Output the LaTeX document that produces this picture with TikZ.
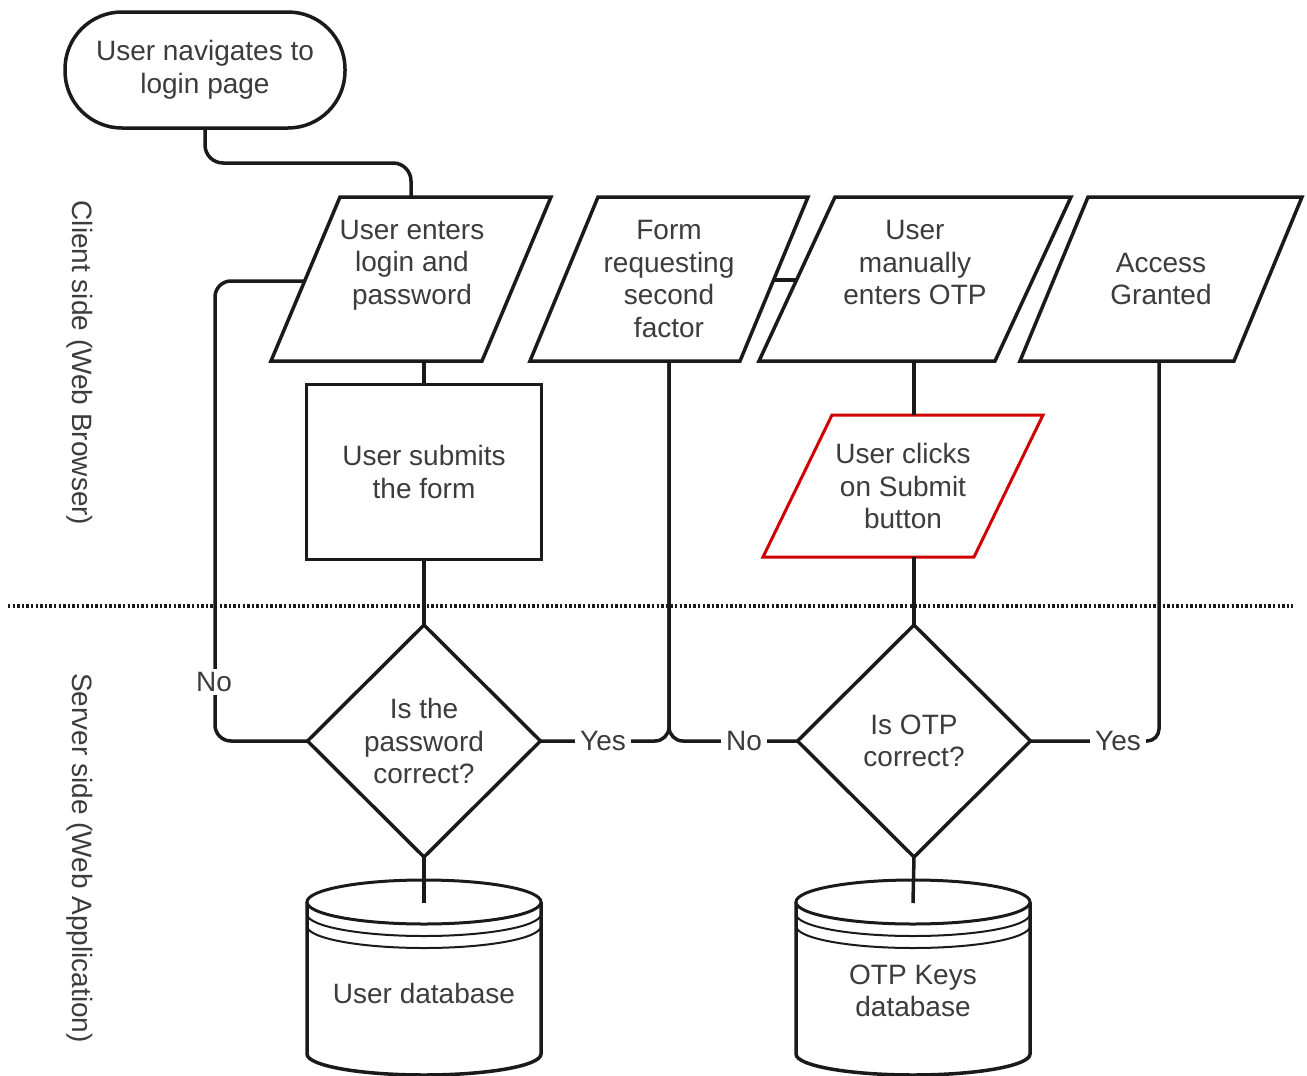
\documentclass[tikz,border=0pt]{standalone}
\usepackage{fontspec}
\setmainfont{Liberation Sans}
\usetikzlibrary{shapes.geometric,calc}
\definecolor{txt}{HTML}{3C3C3C}
\definecolor{ln}{HTML}{1A1A1A}
\definecolor{redb}{HTML}{D10000}
% #1 name, #2 cx, #3 cy, #4 half width (at mid height), #5 half height, #6 half slant, #7 style
\newcommand\paradraw[7]{%
  \draw[#7] (#2-#4+#6,#3-#5) -- (#2+#4+#6,#3-#5) -- (#2+#4-#6,#3+#5) -- (#2-#4-#6,#3+#5) -- cycle;
  \coordinate (#1-ls) at (#2-#4,#3);
  \coordinate (#1-rs) at (#2+#4,#3);
  \coordinate (#1-t) at (#2,#3-#5);
  \coordinate (#1-b) at (#2,#3+#5);
}
\newcommand\dbdraw[1]{%
  \draw[draw=ln, line width=3.5pt, fill=white] (#1-117,902) -- (#1-117,1054) arc[start angle=180,end angle=360,x radius=117pt,y radius=21pt] -- (#1+117,902);
  \draw[draw=ln, line width=3pt, fill=white] (#1,902) ellipse[x radius=117pt, y radius=22pt];
  \draw[draw=ln, line width=2pt] (#1-117,914) arc[start angle=180,end angle=360,x radius=117pt,y radius=22pt];
  \draw[draw=ln, line width=2pt] (#1-117,926) arc[start angle=180,end angle=360,x radius=117pt,y radius=22pt];
}
\begin{document}
\begin{tikzpicture}[x=1pt,y=-1pt,
  every node/.style={font=\fontsize{28}{32.5}\selectfont, text=txt},
  shp/.style={draw=ln, line width=3.5pt, fill=white, align=center, inner sep=2pt, outer sep=0pt},
  pshape/.style={draw=ln, line width=3.5pt, fill=white, line join=miter},
  rshape/.style={draw=redb, line width=3pt, fill=white, line join=miter},
  ptext/.style={align=center, inner sep=0pt},
  term/.style={shp, rectangle, rounded corners=57, minimum width=280, minimum height=116},
  proc/.style={shp, rectangle, minimum width=235, minimum height=175},
  dec/.style={shp, diamond, minimum width=233, minimum height=232, inner sep=0pt},
  conn/.style={draw=ln, line width=3.5pt},
  lbl/.style={fill=white, inner xsep=5pt, inner ysep=3pt},
  sep/.style={draw=ln, line width=4.5pt, dash pattern=on 2.4pt off 2.2pt}
]
\useasboundingbox (0,0) rectangle (1307,1076);
\fill[white] (0,0) rectangle (1307,1076);

% separator
\draw[sep] (8,606) -- (1293,606);

% side labels
\node[rotate=-90] (client) at (80,363) {Client side (Web Browser)};
\node[rotate=-90] (server) at (80,858) {Server side (Web Application)};

% databases
\dbdraw{424}
\dbdraw{913}
\coordinate (udbtop) at (424,903);
\coordinate (okdbtop) at (913,903);
\node (udb) at (424,993) {User database};
\node[align=center] (okdb) at (913,991) {OTP Keys\\database};

% parallelograms (input / output)
\paradraw{p1}{411}{279}{105.5}{82}{34.5}{pshape}
\paradraw{form}{669}{279}{105}{82}{34}{pshape}
\paradraw{p3}{915}{279}{118}{82}{38}{pshape}
\paradraw{access}{1161}{279}{107}{82}{34}{pshape}
\paradraw{click}{903}{486}{105.5}{71}{34.5}{rshape}

\node[ptext] (p1) at (412,265) {User enters\\login and\\password};
\node[ptext] (form) at (669,279) {Form\\requesting\\second\\factor};
\node[ptext] (p3) at (915,263) {User\\manually\\enters OTP};
\node[ptext] (access) at (1161,279) {Access\\Granted};
\node[ptext] (click) at (903,486) {User clicks\\on Submit\\button};

% other nodes
\node[term] (start) at (205,70) {User navigates to\\login page};
\node[proc] (submit) at (424,472) {User submits\\the form};
\node[dec] (chk1) at (424,741) {Is the\\password\\correct?};
\node[dec] (chk2) at (914,741) {Is OTP\\correct?};

\coordinate (loopx) at (215,0);

% connectors
\draw[conn, rounded corners=18] (start.south) -- ++(0,35) -| (p1-t);
\draw[conn] (p1-b -| submit.north) -- (submit.north);
\draw[conn] (submit.south) -- (chk1.north);
\draw[conn] (chk1.south) -- (udbtop);
\draw[conn, rounded corners=16] (chk1.west) -| ([yshift=-2pt]loopx |- p1-ls) -- ([yshift=-2pt]p1-ls);
\draw[conn, rounded corners=14] (chk1.east) -| (form-b);
\draw[conn, rounded corners=14] (chk2.west) -| (form-b);
\draw[conn] ([yshift=-1pt]form-rs) -- ([yshift=-1pt]p3-ls);
\draw[conn] (p3-b -| chk2.north) -- (click-t -| chk2.north);
\draw[conn] (click-b -| chk2.north) -- (chk2.north);
\draw[conn] (chk2.south) -- (okdbtop);
\draw[conn, rounded corners=12] (chk2.east) -| (access-b -| 1159,0);

% labels
\node[lbl] (no1) at (214,682) {No};
\node[lbl] (yes1) at (603,741) {Yes};
\node[lbl] (no2) at (744,741) {No};
\node[lbl] (yes2) at (1118,741) {Yes};
\end{tikzpicture}
\end{document}
